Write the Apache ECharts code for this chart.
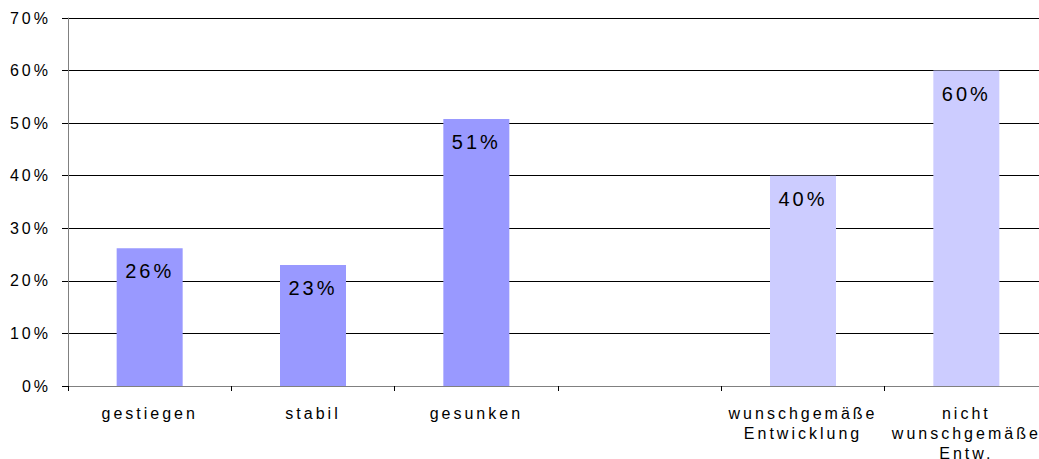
<!DOCTYPE html>
<html>
<head>
<meta charset="utf-8">
<script src="https://cdn.jsdelivr.net/npm/echarts@6/dist/echarts.min.js"></script>
<style>
  html, body { margin: 0; padding: 0; background: #fff; }
  #chart { width: 1039px; height: 459px; }
  /* the source uses wide letter spacing */
  #chart text { letter-spacing: 3px; }
</style>
</head>
<body>
<div id="chart"></div>
<script>
  // Kategorien (die leere Stelle trennt die beiden Gruppen)
  const categories = ['gestiegen', 'stabil', 'gesunken', '', 'wunschgemäße\nEntwicklung', 'nicht\nwunschgemäße\nEntw.'];
  // Werte in Prozent
  const values = [26.2, 23, 50.8, null, 40, 60];
  // Beschriftungen der Balken
  const valueLabels = ['26%', '23%', '51%', '', '40%', '60%'];
  // y-Achse
  const yMin = 0;
  const yMax = 70;
  const yStep = 10;

  const font = 'Liberation Sans, Arial, sans-serif';

  const chart = echarts.init(document.getElementById('chart'), null, { renderer: 'svg' });

  chart.setOption({
    animation: false,
    backgroundColor: '#fff',
    grid: {
      left: 68,
      top: 18,
      width: 980,
      height: 368,
      containLabel: false,
      outerBoundsMode: 'none'
    },
    xAxis: {
      type: 'category',
      data: categories,
      boundaryGap: true,
      axisLine: { show: true, lineStyle: { color: '#808080', width: 1 } },
      axisTick: { show: true, length: 5, alignWithLabel: false, lineStyle: { color: '#000' } },
      axisLabel: {
        interval: 0,
        margin: 17,
        color: '#000',
        fontFamily: font,
        fontSize: 16,
        lineHeight: 20
      },
      splitLine: { show: false }
    },
    yAxis: {
      type: 'value',
      min: yMin,
      max: yMax,
      interval: yStep,
      axisLine: { show: true, lineStyle: { color: '#808080', width: 1 } },
      axisTick: { show: true, length: 6, lineStyle: { color: '#000' } },
      axisLabel: {
        formatter: '{value}%',
        margin: 17,
        color: '#000',
        fontFamily: font,
        fontSize: 16
      },
      splitLine: { show: true, lineStyle: { color: '#000', width: 1 } }
    },
    series: [{
      type: 'bar',
      data: values,
      barWidth: 66,
      itemStyle: {
        color: function (p) {
          return p.dataIndex < 3 ? '#9999FF' : '#CCCCFF';
        }
      },
      label: {
        show: true,
        position: 'insideTop',
        distance: 13,
        color: '#000',
        fontFamily: font,
        fontSize: 20,
        formatter: function (p) {
          return valueLabels[p.dataIndex];
        }
      }
    }]
  });
</script>
</body>
</html>
